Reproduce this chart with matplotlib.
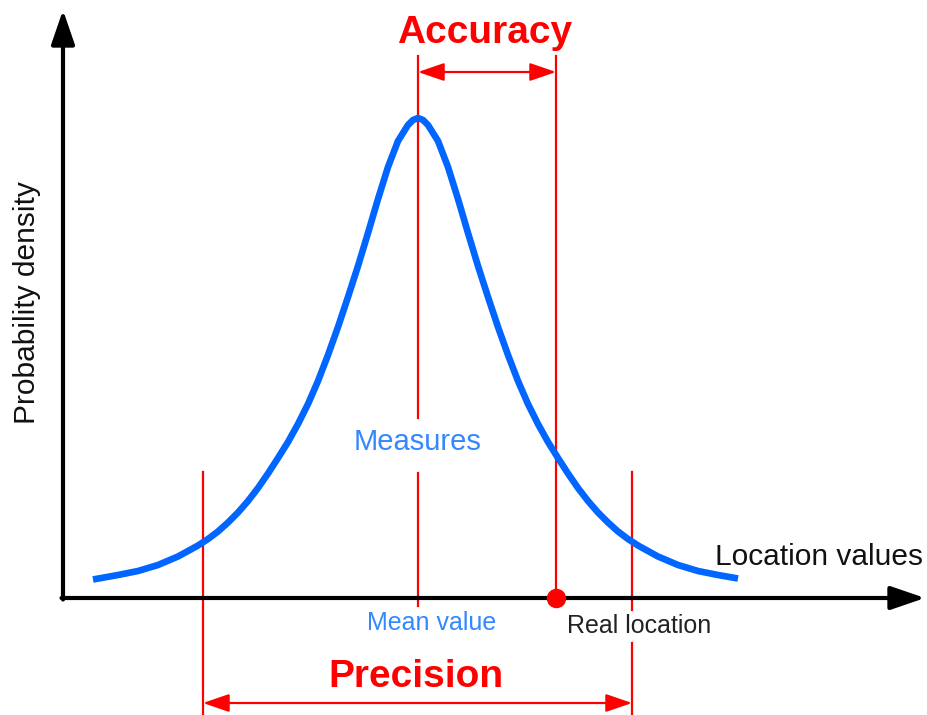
import matplotlib
matplotlib.use("Agg")
import matplotlib.pyplot as plt

plt.rcParams['font.family'] = ['Liberation Sans', 'DejaVu Sans']

# curve (location, density)
loc = [30, 55, 75, 95, 115, 135, 145, 155, 165, 175, 185, 195, 205, 215, 225,
       235, 245, 255, 265, 275, 285, 295, 305, 315, 325, 335, 345, 350, 355,
       360, 365, 375, 385, 395, 405, 415, 425, 435, 445, 455, 465, 475, 485,
       495, 505, 515, 525, 535, 545, 555, 565, 575, 595, 615, 635, 655, 675]
dens = [18.5, 23, 27, 33, 41.5, 52.5, 59, 66.5, 75.5, 85.5, 97, 110, 124.5, 140, 156,
        174, 194, 217, 243, 271, 301, 332, 365, 399, 431, 457, 473, 478, 480,
        478, 473, 457, 431, 399, 365, 332, 301, 271, 243, 217, 194, 174, 156,
        140, 124.5, 110, 97, 85.5, 75.5, 66.5, 59, 52.5, 41.5, 33, 27, 23, 19.5]

mean_loc = 355
real_loc = 493
prec_lo, prec_hi = 140, 569

blue = '#0066ff'
txt_blue = '#3388ff'
red = '#ff0000'

fig = plt.figure(figsize=(9.27, 7.15), dpi=100)
ax = fig.add_axes([0, 0, 1, 1])
ax.set_xlim(-63, 864)
ax.set_ylim(-117, 598)
ax.axis('off')

# axes with arrows
axis_arrow = dict(arrowstyle='-|>,head_length=1.05,head_width=0.36', mutation_scale=20,
                  lw=3, color='black', shrinkA=0, shrinkB=0)
ax.annotate('', xy=(0, 588), xytext=(0, -1.5), arrowprops=axis_arrow)
ax.annotate('', xy=(862, 0), xytext=(-1.5, 0), arrowprops=axis_arrow)

# red guide lines
lw_red = 1.6
ax.plot([mean_loc, mean_loc], [542, 180], color=red, lw=lw_red)
ax.plot([mean_loc, mean_loc], [125, -8], color=red, lw=lw_red)
ax.plot([real_loc, real_loc], [542, 0], color=red, lw=lw_red)
ax.plot([prec_lo, prec_lo], [126, -117], color=red, lw=lw_red)
ax.plot([prec_hi, prec_hi], [126, -12], color=red, lw=lw_red)
ax.plot([prec_hi, prec_hi], [-45, -117], color=red, lw=lw_red)

# the curve
ax.plot(loc, dens, color=blue, lw=4.8, solid_capstyle='butt', solid_joinstyle='round', zorder=3)

# real location dot
ax.plot([real_loc], [0], 'o', color=red, ms=13, zorder=4)

# double arrows
red_arrow = dict(arrowstyle='<|-|>,head_length=1.6,head_width=0.55', mutation_scale=10,
                 lw=lw_red, color=red, shrinkA=0, shrinkB=0)
ax.annotate('', xy=(real_loc, 526), xytext=(mean_loc, 526), arrowprops=red_arrow)
ax.annotate('', xy=(prec_hi, -105), xytext=(prec_lo, -105), arrowprops=red_arrow)

# texts
ax.text(422, 555, 'Accuracy', color=red, fontsize=28, fontweight='bold', ha='center', va='baseline')
ax.text(353, -89, 'Precision', color=red, fontsize=28, fontweight='bold', ha='center', va='baseline')
ax.text(mean_loc, 148, 'Measures', color=txt_blue, fontsize=21, ha='center', va='baseline')
ax.text(369, -32, 'Mean value', color=txt_blue, fontsize=18, ha='center', va='baseline')
ax.text(576, -35, 'Real location', color='#222222', fontsize=18, ha='center', va='baseline')
ax.text(652, 33, 'Location values', color='#111111', fontsize=21.5, ha='left', va='baseline')
ax.text(-36, 295, 'Probability density', color='#111111', fontsize=21.5, rotation=90,
        ha='center', va='center')

fig.savefig('out.png', dpi=100)
